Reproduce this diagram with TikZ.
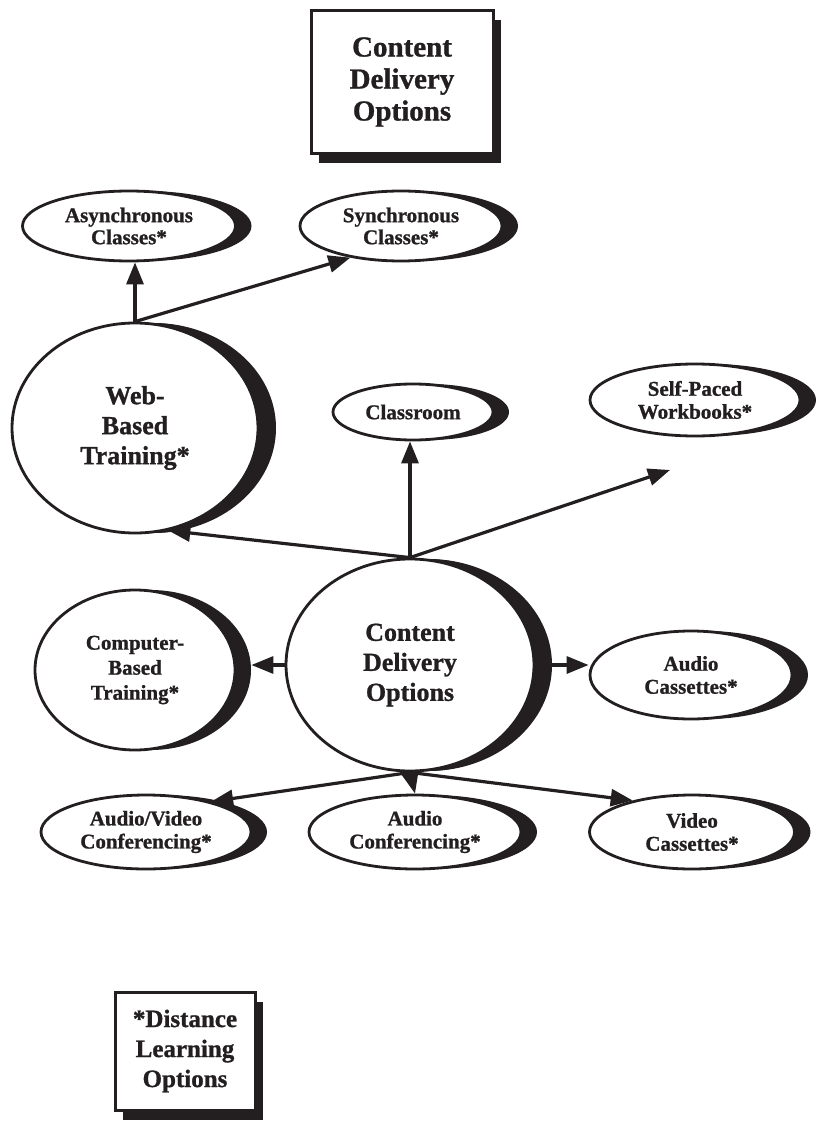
\documentclass[tikz,border=0pt]{standalone}
\usepackage{fontspec}
\setmainfont{Liberation Serif}[BoldFeatures={FakeBold=1}]
\usetikzlibrary{positioning,shapes,shadows,arrows.meta}
\definecolor{ink}{HTML}{231F20}

\begin{document}
\begin{tikzpicture}[x=1pt, y=-1pt,
    option/.style={draw=ink, fill=white, ellipse, line width=2.8pt, inner sep=0pt, align=center, text=ink,
        font=\bfseries\fontsize{21}{23}\selectfont,
        drop shadow={shadow xshift=16pt, shadow yshift=0pt, opacity=1, fill=ink}},
    bigoption/.style={option, font=\bfseries\fontsize{26}{30}\selectfont,
        drop shadow={shadow xshift=18pt, shadow yshift=0pt, opacity=1, fill=ink}},
    labelbox/.style={draw=ink, fill=white, rectangle, line width=3pt, inner sep=0pt, align=center, text=ink,
        drop shadow={shadow xshift=8pt, shadow yshift=-10pt, opacity=1, fill=ink}},
    link/.style={-{Triangle[length=22pt,width=17pt]}, line width=3.2pt, draw=ink}
]
\useasboundingbox (0,0) rectangle (815,1123);

% Boxes
\node[labelbox, minimum width=182pt, minimum height=143pt, font=\bfseries\fontsize{29}{32}\selectfont] (title) at (402,82) {Content\\Delivery\\Options};
\node[labelbox, minimum width=140pt, minimum height=118pt, font=\bfseries\fontsize{25}{30}\selectfont] (legend) at (185,1051) {*Distance\\Learning\\Options};

% Options
\node[option, minimum width=213pt, minimum height=70pt, font=\bfseries\fontsize{21}{22}\selectfont] (async) at (129,226) {Asynchronous\\Classes*};
\node[option, minimum width=202pt, minimum height=70pt, font=\bfseries\fontsize{21}{22}\selectfont] (sync) at (401,226) {Synchronous\\Classes*};
\node[bigoption, minimum width=246pt, minimum height=210pt] (wbt) at (135,428) {Web-\\Based\\Training*};
\node[option, minimum width=160pt, minimum height=56pt] (class) at (413,412) {Classroom};
\node[option, minimum width=210pt, minimum height=72pt] (selfp) at (695,400) {Self-Paced\\Workbooks*};
\node[bigoption, minimum width=248pt, minimum height=212pt] (cdo) at (410,665) {Content\\Delivery\\Options};
\node[option, minimum width=200pt, minimum height=160pt, font=\bfseries\fontsize{21}{25}\selectfont] (cbt) at (135,670) {Computer-\\Based\\Training*};
\node[option, minimum width=202pt, minimum height=88pt] (acass) at (691,675) {Audio\\Cassettes*};
\node[option, minimum width=210pt, minimum height=74pt] (avc) at (146,832) {Audio/Video\\Conferencing*};
\node[option, minimum width=212pt, minimum height=74pt] (aconf) at (415,832) {Audio\\Conferencing*};
\node[option, minimum width=205pt, minimum height=74pt] (vcass) at (692,832) {Video\\Cassettes*};
\coordinate (selfptip) at (670,470);

% Arrows
\draw[link] (wbt.north) -- (wbt.north |- async.south);
\draw[link] (wbt.north) -- (sync.212);
\draw[link] (cdo.north) -- (cdo.north |- class.south);
\draw[link] (cdo.north) -- (selfptip);
\draw[link] (cdo.north) -- (wbt.288);
\draw[link, shorten >=15pt] (cdo.west) -- (cdo.west -| cbt.east);
\draw[link] (cdo.east) -- (cdo.east -| acass.west);
\draw[link] (cdo.south) -- (aconf.north);
\draw[link] (cdo.south) -- (avc.25);
\draw[link] (cdo.south) -- (vcass.152);

\end{tikzpicture}
\end{document}
